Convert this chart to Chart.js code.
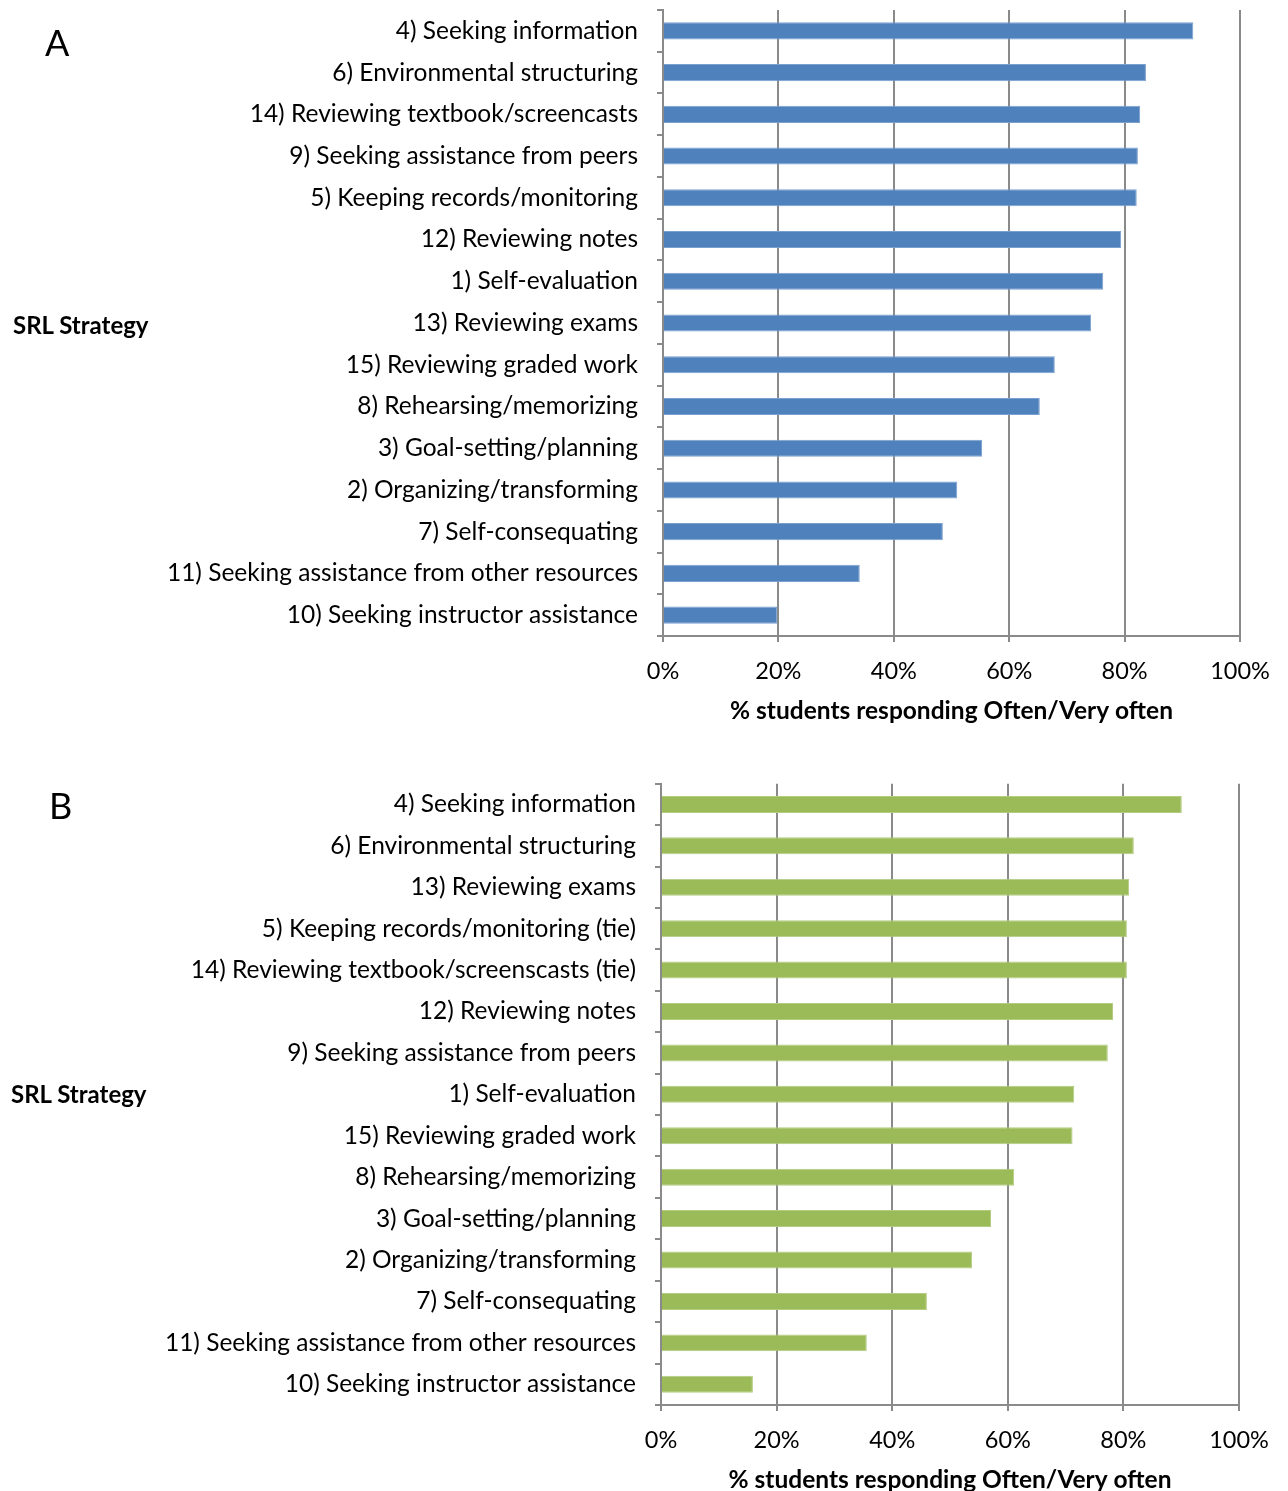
<!DOCTYPE html>
<html><head><meta charset="utf-8">
<script src="https://cdn.jsdelivr.net/npm/chart.js@4"></script>
<style>
body{margin:0;background:#fff;width:1288px;height:1491px;position:relative;overflow:hidden;font-family:Lato,sans-serif;color:#000}
canvas{position:absolute;left:0}
.panel{position:absolute;font-size:36px;line-height:36px}
.ytitle{position:absolute;font-size:24px;font-weight:bold;line-height:28px}
</style></head><body>
<canvas id="chartA" width="1288" height="756" style="top:-30px;width:1288px;height:756px"></canvas>
<canvas id="chartB" width="1288" height="745" style="top:750px;width:1288px;height:745px"></canvas>
<div class="panel" style="left:45px;top:24px">A</div>
<div class="panel" style="left:49px;top:787px">B</div>
<div class="ytitle" style="left:13px;top:311px">SRL Strategy</div>
<div class="ytitle" style="left:11px;top:1080px">SRL Strategy</div>
<script>
const categoriesA = [
  "4) Seeking information",
  "6) Environmental structuring",
  "14) Reviewing textbook/screencasts",
  "9) Seeking assistance from peers",
  "5) Keeping records/monitoring",
  "12) Reviewing notes",
  "1) Self-evaluation",
  "13) Reviewing exams",
  "15) Reviewing graded work",
  "8) Rehearsing/memorizing",
  "3) Goal-setting/planning",
  "2) Organizing/transforming",
  "7) Self-consequating",
  "11) Seeking assistance from other resources",
  "10) Seeking instructor assistance"
];
const valuesA = [91.9, 83.7, 82.7, 82.3, 82.1, 79.4, 76.3, 74.2, 67.9, 65.3, 55.3, 51.0, 48.5, 34.1, 19.8];

const categoriesB = [
  "4) Seeking information",
  "6) Environmental structuring",
  "13) Reviewing exams",
  "5) Keeping records/monitoring (tie)",
  "14) Reviewing textbook/screenscasts (tie)",
  "12) Reviewing notes",
  "9) Seeking assistance from peers",
  "1) Self-evaluation",
  "15) Reviewing graded work",
  "8) Rehearsing/memorizing",
  "3) Goal-setting/planning",
  "2) Organizing/transforming",
  "7) Self-consequating",
  "11) Seeking assistance from other resources",
  "10) Seeking instructor assistance"
];
const valuesB = [90.1, 81.8, 81.0, 80.6, 80.6, 78.2, 77.3, 71.5, 71.2, 61.1, 57.1, 53.8, 46.0, 35.6, 15.9];

const xTickStep = 20;
const xTitle = "% students responding Often/Very often";

const FONT = "Lato";
const GRID = "#8a8a8a";

function makeChart(id, labels, values, fill, edge, axisWidth, padTop, padRight) {
  return new Chart(document.getElementById(id), {
    type: 'bar',
    data: { labels: labels, datasets: [{ data: values, backgroundColor: fill, borderColor: edge, borderWidth: 1, barPercentage: 0.41, categoryPercentage: 1 }] },
    options: {
      indexAxis: 'y', responsive: false, animation: false, devicePixelRatio: 1,
      layout: { padding: { top: padTop, right: padRight, left: 0, bottom: 0 } },
      plugins: { legend: { display: false }, tooltip: { enabled: false } },
      scales: {
        y: {
          afterFit: s => { s.width = axisWidth; },
          grid: { drawOnChartArea: false, drawTicks: true, tickLength: 6, color: GRID, lineWidth: 2, offset: true },
          border: { display: true, color: GRID, width: 2 },
          ticks: { padding: 19, color: '#000', font: { family: FONT, size: 24.5 } }
        },
        x: {
          min: 0, max: 100,
          afterFit: s => { s.height = 90; },
          grid: { color: GRID, lineWidth: 2, tickLength: 6, drawTicks: true },
          border: { display: true, color: GRID, width: 2 },
          ticks: { stepSize: xTickStep, padding: 15, color: '#000', font: { family: FONT, size: 23.5 }, callback: v => v + '%' },
          title: { display: true, text: xTitle, color: '#000', padding: { top: 0, bottom: 0 }, font: { family: FONT, size: 24.5, weight: 'bold' } }
        }
      }
    }
  });
}
makeChart('chartA', categoriesA, valuesA, '#4F81BD', '#7aa0cf', 663, 40, 48);
makeChart('chartB', categoriesB, valuesB, '#9BBB59', '#b3cc80', 661, 31, 49);
</script>
</body></html>
